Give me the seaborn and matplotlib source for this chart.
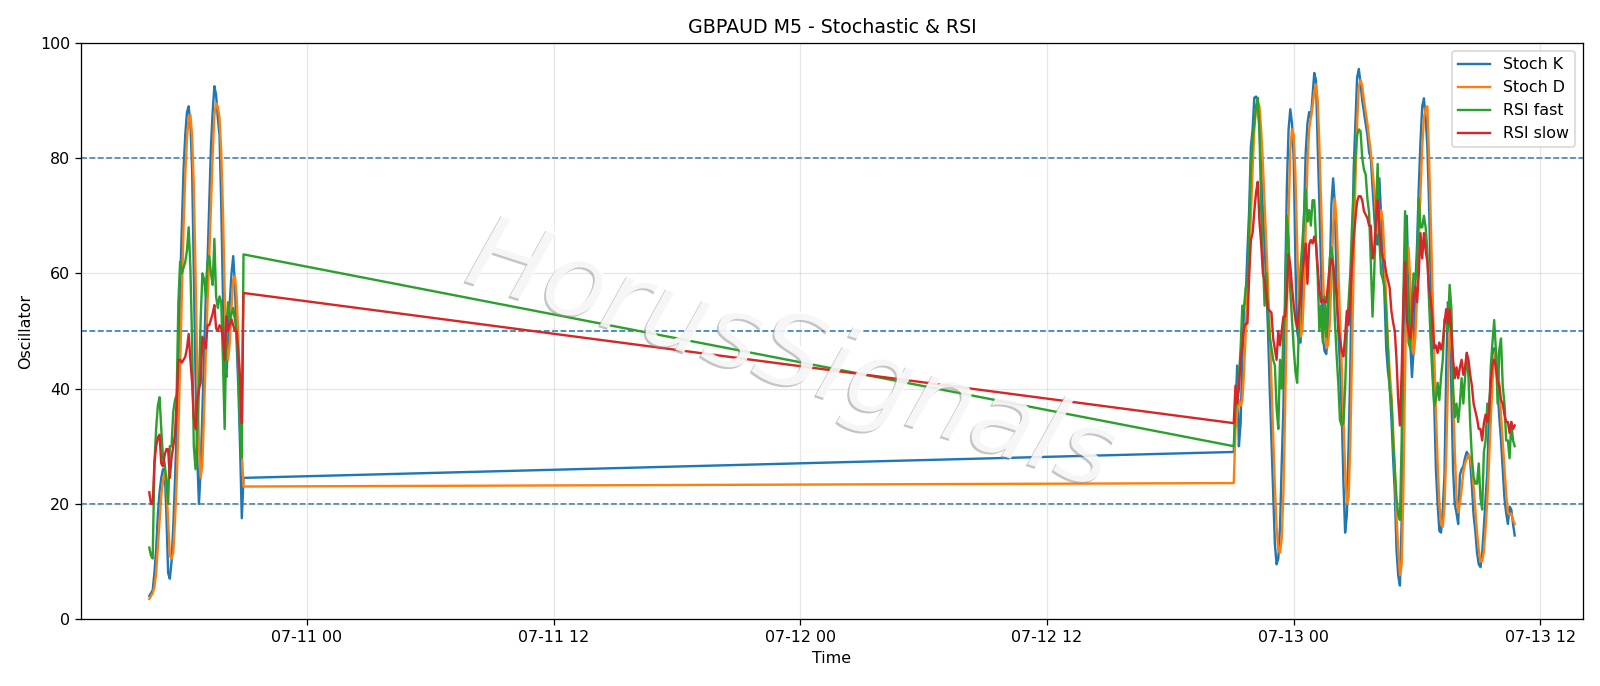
import numpy as np
import pandas as pd
import matplotlib
matplotlib.use("Agg")
import matplotlib.pyplot as plt
import matplotlib.dates as mdates
import matplotlib.patheffects as pe
import seaborn as sns

# ---------------- data (M5 bars) ----------------
seg1_start = "2025-07-10 16:20"
seg2_start = "2025-07-12 21:05"

stoch_k_1 = [4, 4.5, 5, 8, 12, 18, 22, 24.5, 26, 26,
             18, 8, 7, 10, 16, 24, 33, 42, 58, 68,
             78, 84, 88, 89, 86, 78, 60, 42, 28, 20,
             26, 36, 46, 56, 62, 72, 82, 88, 92.5, 91,
             87, 84, 72, 56, 44, 42, 48, 55, 60, 63,
             58, 48, 40, 30, 17.5, 24.5]
stoch_d_1 = [3.5, 4, 4.5, 5.5, 8, 12.5, 17, 21.5, 24, 25.5,
             23.5, 17, 11, 10.5, 11.5, 17, 24, 33, 44, 56,
             68, 77, 83.5, 87, 87.5, 84, 75, 60, 43, 30,
             24.5, 27, 36, 46, 55, 63, 72, 80.5, 87.5, 89.5,
             89, 87, 81, 71, 57, 47, 45, 48, 54, 59,
             59.5, 56, 49, 39, 29, 23]
rsi_fast_1 = [12.4, 11, 10.5, 27, 33, 37, 38.5, 33, 28, 27,
              24, 20, 30, 30, 36, 38, 39, 55, 62, 60,
              61, 62, 64, 68, 61, 48, 30, 26, 32, 40,
              52, 60, 59, 56, 62, 63, 60, 58, 66, 56,
              54, 56, 55, 45, 33, 50, 55, 52, 53, 54,
              52, 50, 43, 33, 28, 63.3]
rsi_slow_1 = [22, 20, 20, 27, 30, 31.5, 32, 27, 26.5, 28.5,
              29.5, 29.5, 24.5, 28, 30, 32, 38, 45, 45, 44.5,
              45, 45.5, 47, 49.5, 45, 41, 35, 33, 38, 40,
              41, 49, 48, 47, 51, 51, 52, 53, 54.5, 50.5,
              50, 51, 50.5, 49, 45, 52.5, 50, 51, 52, 51,
              50, 50, 46, 42, 34, 56.6]

stoch_k_2 = [29, 36, 44, 30, 34, 45, 54, 56, 64, 71,
             82, 85, 90.5, 90.7, 90, 85, 78, 71, 65, 58,
             50, 40, 31, 22, 13, 9.5, 10.5, 16, 27, 37,
             58, 75, 85, 88.5, 86, 80, 62, 50, 48, 48,
             56, 70, 81, 86, 88, 87, 91, 94.8, 93.5, 82,
             72, 60, 49, 46.5, 46, 50, 59, 72, 76.5, 72,
             58, 50, 44, 36, 24, 15, 18, 30, 43, 63,
             78, 86, 94, 95.5, 93, 90, 88, 86, 84, 81,
             80, 75, 70, 65.5, 65, 76.5, 70, 63, 56, 47,
             43, 40.5, 35, 28, 22, 12, 7.5, 5.8, 17, 48,
             65, 70, 58, 48, 42, 46.8, 58, 65, 75, 83,
             89, 90.4, 87, 82, 72, 58, 46, 37.4, 26, 20,
             15.3, 15, 19, 25, 43, 55, 53, 40, 26, 20,
             18.4, 16.5, 25, 26, 26.5, 28, 29, 28.5, 27.5, 23,
             18, 15.3, 11.5, 9.5, 9, 11.5, 16, 21, 25.5, 36,
             41, 46, 47, 46.8, 40, 35, 31, 26, 21, 18.4,
             16.5, 19.5, 19, 16.5, 14.5]
stoch_d_2 = [23.6, 33, 36, 38, 37, 38, 43, 50, 57, 63,
             70, 78, 85, 88.5, 89.8, 89, 85, 79, 72, 65,
             58, 50, 41, 32, 23, 16, 12, 11.5, 14, 22,
             37, 54, 70, 81.5, 85, 84, 77, 65, 55, 49,
             50, 57, 68, 79, 85, 87, 89, 91.5, 92.8, 90,
             82, 72, 61, 52, 47, 47.5, 51, 59, 68, 73,
             69, 61, 52, 44, 35, 26, 20, 21, 30, 46,
             62, 76, 86, 92.5, 93.6, 92.5, 90, 88, 86, 83.5,
             81, 78, 74.5, 70, 67, 69, 71, 69, 63, 55,
             48, 43, 39, 33, 26, 18, 12, 7.6, 9.5, 22,
             43, 59.5, 64.5, 59, 50, 46, 49, 56, 66, 74,
             82, 87, 88.7, 89, 80, 69, 57, 46, 36, 27,
             20, 16.5, 16, 19.5, 28.5, 41, 50.5, 49, 40, 29,
             21.5, 18.5, 20, 22.5, 25.5, 27, 27.8, 28.5, 28, 26.3,
             23, 19, 15, 12, 10, 10, 11.8, 15.8, 20.7, 27.3,
             34.3, 41, 45, 46.5, 44.5, 40.5, 35.3, 30.7, 26, 21.7,
             18.5, 18, 18.3, 17.2, 16.5]
rsi_fast_2 = [30, 37, 37.5, 42, 47, 54.4, 54, 57.6, 57.6, 67.7,
              78.4, 83.5, 86, 89, 90.5, 84.7, 71.5, 62.6, 54.4, 60,
              53, 49, 47, 45, 44, 36.7, 33, 45, 40, 50,
              54, 70, 66, 57, 52, 47, 43, 41, 50, 61,
              65, 70, 74.6, 69, 71, 68.3, 72.7, 72.7, 65.8, 59.5,
              50, 54.4, 48, 56, 49, 56, 62.6, 64.5, 62, 52,
              46, 41, 34.5, 33.6, 34, 40, 50, 55, 60, 68,
              74, 80, 84, 85, 84.7, 80, 78, 77.2, 73, 70.5,
              62, 52.5, 60, 71, 79, 66, 60, 59, 57.6, 53.2,
              46.8, 40, 38, 31, 26, 21, 18, 17.2, 31, 56,
              70.8, 63, 48, 47, 55, 60, 59, 60, 73, 68,
              68, 70, 68, 64, 55, 48, 42, 37, 38, 41,
              38, 42, 45, 52, 52.5, 50, 58, 54, 40, 35,
              37.4, 34.2, 37.4, 41.8, 37.4, 42, 46.2, 42, 34, 28,
              24.7, 23.5, 23.5, 27, 21, 19, 29, 31, 37.4, 34.2,
              43.7, 48, 51.9, 46.8, 37.4, 46.8, 48.7, 40.5, 37.4, 31,
              31, 27.9, 34.2, 31, 30]
rsi_slow_2 = [34, 40.5, 37.4, 40, 45, 47.5, 50.6, 51.3, 51.3, 59.5,
              65.8, 67, 70.8, 74, 75.9, 69, 65.2, 60, 58.8, 56.3,
              53.8, 53.5, 53.2, 48.7, 46.8, 45, 50, 47.5, 50, 52.5,
              52.5, 56.3, 63.3, 61.4, 57.6, 54.5, 52, 50.5, 53.5, 56,
              60, 62.6, 65.2, 58.2, 65, 65.8, 65.2, 66.4, 65, 61,
              57, 55, 55.5, 55, 55, 58, 61, 62.5, 61.5, 59,
              56, 51, 48.5, 46.5, 45.6, 49, 53.5, 51, 55.5, 62,
              66, 69.5, 72.5, 73.4, 73.4, 72.7, 70.8, 70.2, 69.6, 68.3,
              68.3, 62.6, 64, 69, 72.7, 67.7, 64.5, 62.6, 62, 60,
              58.8, 57.5, 53.5, 51.5, 50, 45, 38, 33.6, 43, 55,
              62, 52, 50, 48.7, 51, 56.3, 57.6, 55, 60, 67,
              62.6, 67, 64, 62, 57, 55.5, 52, 47, 47.5, 46.2,
              48, 46.8, 48, 51.3, 53.8, 51.3, 53.8, 50, 45, 41.8,
              43.7, 41.8, 43.7, 45, 42.4, 43.7, 46.2, 45, 42.4, 40.5,
              37.4, 36.1, 34.8, 33, 33, 31, 34, 35.5, 34.2, 36.1,
              41.2, 44.3, 45, 43.7, 41.2, 40.5, 38, 37.4, 35.5, 34.2,
              34.2, 32.3, 34.2, 33, 33.6]

series = [
    ("Stoch K", stoch_k_1, stoch_k_2, "#1f77b4"),
    ("Stoch D", stoch_d_1, stoch_d_2, "#ff7f0e"),
    ("RSI fast", rsi_fast_1, rsi_fast_2, "#2ca02c"),
    ("RSI slow", rsi_slow_1, rsi_slow_2, "#d62728"),
]
levels = [80, 50, 20]


def times_for(a, b):
    t1 = pd.date_range(seg1_start, periods=len(a), freq="5min")
    t2 = pd.date_range(seg2_start, periods=len(b), freq="5min")
    return t1.append(t2)


DPI = 1600 / 14
fig, ax = plt.subplots(figsize=(14, 6.0025), dpi=DPI)
fig.subplots_adjust(left=81 / 1600, right=1583 / 1600,
                    top=1 - 43 / 686, bottom=1 - 619 / 686)

for lv in levels:
    ax.axhline(lv, color="#1f77b4", linestyle="--", linewidth=1.0, zorder=1)

for name, a, b, col in series:
    df = pd.DataFrame({"time": times_for(a, b), "value": list(a) + list(b)})
    sns.lineplot(data=df, x="time", y="value", ax=ax, label=name,
                 color=col, linewidth=1.5, estimator=None, sort=False)

ax.set_ylim(0, 100)
ax.grid(True, alpha=0.3)
ax.xaxis.set_major_locator(mdates.HourLocator(byhour=[0, 12]))
ax.xaxis.set_major_formatter(mdates.DateFormatter("%m-%d %H"))
ax.set_title("GBPAUD M5 - Stochastic & RSI")
ax.set_xlabel("Time")
ax.set_ylabel("Oscillator")
ax.legend(loc="upper right")

ax.text(0.473, 0.455, "HorusSignals", transform=ax.transAxes,
        ha="center", va="center", rotation=-18, fontsize=65,
        family="DejaVu Sans", fontstyle="italic", color="white",
        alpha=0.85, zorder=10,
        path_effects=[pe.SimplePatchShadow(offset=(-1.2, -1.2),
                                           shadow_rgbFace=(0.55, 0.55, 0.55),
                                           alpha=0.5),
                      pe.Normal()])

fig.savefig("out.png", dpi=DPI)
